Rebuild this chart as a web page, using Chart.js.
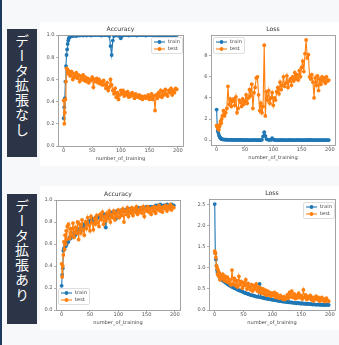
<!DOCTYPE html>
<html><head><meta charset="utf-8">
<script src="https://cdn.jsdelivr.net/npm/chart.js@4"></script>
<style>
html,body{margin:0;padding:0;}
body{width:339px;height:345px;background:#f7f8fa;position:relative;overflow:hidden;font-family:"DejaVu Sans",sans-serif;}
.edge{position:absolute;left:0;top:0;width:2px;height:345px;background:#1e3a5f;}
.panel{position:absolute;background:#ffffff;}
.tag{position:absolute;left:7px;width:30px;background:#2c3447;}
.tag div{position:absolute;left:8px;top:5px;width:14px;font-family:"Noto Sans CJK JP",sans-serif;font-size:14px;line-height:14px;letter-spacing:0.7px;color:#fff;writing-mode:vertical-rl;text-orientation:upright;}
canvas{position:absolute;}
</style></head>
<body>
<div class="edge"></div>
<div class="panel" style="left:40px;top:22px;width:299px;height:144px"></div>
<div class="panel" style="left:40px;top:186px;width:299px;height:144px"></div>
<div class="tag" style="top:29px;height:128px"><div>データ拡張なし</div></div>
<div class="tag" style="top:194px;height:130px"><div>データ拡張あり</div></div>
<canvas id="c1"></canvas>
<canvas id="c2"></canvas>
<canvas id="c3"></canvas>
<canvas id="c4"></canvas>
<script>
const epochs = [0,1,2,3,4,5,6,7,8,9,10,12,14,16,18,20,22,24,26,28,30,32,34,36,38,40,42,44,46,48,50,52,54,56,58,60,62,64,66,68,70,72,74,76,78,80,82,84,86,88,90,92,94,96,98,100,102,104,106,108,110,112,114,116,118,120,122,124,126,128,130,132,134,136,138,140,142,144,146,148,150,152,154,156,158,160,162,164,166,168,170,172,174,176,178,180,182,184,186,188,190,192,194,196,198];
const xTicks = [0,50,100,150,200];
const accTicks = [0,0.2,0.4,0.6,0.8,1.0];
const lossTicksNoAug = [0,2,4,6,8];
const lossTicksAug = [0,0.5,1.0,1.5,2.0,2.5];
const seriesNames = ['train','test'];
const titles = ['Accuracy','Loss'];
const xLabel = 'number_of_training';

const accTrainNoAug = [0.25,0.35,0.43,0.58,0.72,0.82,0.87,0.92,0.95,0.97,0.98,
 0.985,0.99,0.99,0.995,0.995, 0.99,0.995,1.0,0.995,1.0, 1.0,0.995,1.0,1.0,0.995,
 1.0,1.0,1.0,0.995,1.0, 1.0,1.0,1.0,1.0,1.0, 1.0,1.0,0.995,1.0,1.0,
 1.0,1.0,1.0,1.0,0.99, 0.9,0.82,0.95,0.99,1.0, 1.0,0.995,1.0,0.99,0.97,
 0.99,1.0,1.0,1.0,1.0, 1.0,0.995,1.0,1.0,1.0, 1.0,1.0,1.0,0.995,1.0,
 1.0,1.0,1.0,1.0,1.0, 1.0,0.995,1.0,1.0,1.0, 1.0,1.0,1.0,1.0,1.0,
 1.0,1.0,0.995,1.0,1.0, 1.0,1.0,1.0,1.0,1.0, 1.0,1.0,1.0,1.0,1.0, 1.0,1.0,1.0,1.0];
const accTestNoAug = [0.41,0.2,0.3,0.42,0.58,0.7,0.69,0.66,0.68,0.65,0.67,
 0.63,0.67,0.6,0.65,0.62, 0.66,0.61,0.64,0.58,0.63, 0.6,0.64,0.59,0.62,0.58,
 0.61,0.57,0.6,0.59,0.62, 0.53,0.6,0.58,0.61,0.57, 0.6,0.56,0.58,0.55,0.59,
 0.55,0.52,0.57,0.5,0.53, 0.6,0.55,0.5,0.47,0.52, 0.44,0.48,0.42,0.46,0.5,
 0.47,0.5,0.45,0.48,0.46, 0.49,0.44,0.47,0.45,0.48, 0.46,0.43,0.47,0.45,0.44,
 0.46,0.43,0.45,0.42,0.44, 0.45,0.43,0.44,0.46,0.42, 0.44,0.47,0.42,0.45,0.32,
 0.46,0.43,0.48,0.45,0.5, 0.44,0.49,0.46,0.51,0.47, 0.45,0.5,0.48,0.52,0.46, 0.5,0.48,0.52,0.51];
const lossTrainNoAug = [2.9,1.3,0.9,0.7,0.5,0.35,0.25,0.18,0.13,0.1,0.08,
 0.06,0.05,0.04,0.04,0.03, 0.03,0.03,0.02,0.02,0.02, 0.02,0.02,0.02,0.02,0.02,
 0.02,0.02,0.01,0.02,0.01, 0.01,0.02,0.01,0.01,0.01, 0.01,0.01,0.02,0.01,0.01,
 0.01,0.01,0.01,0.01,0.03, 0.35,0.75,0.4,0.1,0.05, 0.03,0.02,0.03,0.18,0.06,
 0.02,0.01,0.01,0.01,0.01, 0.01,0.02,0.01,0.01,0.01, 0.01,0.01,0.01,0.02,0.01,
 0.01,0.01,0.01,0.01,0.01, 0.01,0.02,0.01,0.01,0.01, 0.01,0.01,0.01,0.01,0.02,
 0.01,0.01,0.02,0.01,0.01, 0.01,0.01,0.01,0.01,0.01, 0.01,0.01,0.01,0.01,0.01, 0.01,0.01,0.01,0.01];
const lossTestNoAug = [1.4,1.3,1.1,1.2,1.0,1.3,1.5,1.8,1.6,2.0,2.3,
 2.8,2.3,2.6,3.0,5.1, 3.4,3.9,3.2,3.7,3.9, 3.3,4.1,2.6,3.0,3.8,
 3.6,3.2,3.9,3.4,3.7, 4.3,3.5,4.0,4.8,4.2, 5.3,3.0,4.5,5.0,5.9,
 6.0,4.3,2.8,3.5,2.6, 3.2,9.0,2.3,4.6,3.8, 4.7,3.5,4.0,4.5,3.3,
 4.0,3.8,4.6,5.0,4.4, 5.5,4.8,5.2,6.0,5.1, 5.4,6.1,5.0,5.6,5.8,
 5.2,6.0,5.6,6.4,5.8, 6.2,5.7,6.6,6.0,6.9, 7.5,6.5,8.2,9.5,7.8,
 8.1,6.0,5.8,6.2,5.5, 4.0,5.9,5.2,6.1,4.7, 5.8,5.3,6.0,5.6,5.9, 5.4,6.0,5.6,5.7];
const accTrainAug = [0.22,0.32,0.38,0.54,0.56,0.55,0.6,0.58,0.62,0.6,0.64,
 0.62,0.66,0.65,0.68,0.67, 0.7,0.68,0.72,0.7,0.73, 0.74,0.72,0.76,0.75,0.78,
 0.77,0.8,0.78,0.81,0.8, 0.82,0.81,0.83,0.82,0.84, 0.83,0.85,0.84,0.86,0.85,
 0.86,0.85,0.87,0.75,0.86, 0.87,0.86,0.88,0.87,0.89, 0.88,0.89,0.83,0.9,0.89,
 0.9,0.89,0.91,0.9,0.9, 0.91,0.9,0.91,0.9,0.92, 0.91,0.92,0.91,0.92,0.91,
 0.92,0.91,0.93,0.92,0.92, 0.93,0.92,0.93,0.92,0.94, 0.93,0.94,0.93,0.94,0.93,
 0.94,0.93,0.95,0.94,0.95, 0.94,0.96,0.95,0.94,0.95, 0.95,0.94,0.96,0.95,0.94, 0.95,0.96,0.94,0.95];
const accTestAug = [0.42,0.3,0.4,0.5,0.62,0.55,0.68,0.6,0.72,0.64,0.76,
 0.78,0.65,0.74,0.68,0.79, 0.66,0.75,0.7,0.8,0.64, 0.78,0.7,0.82,0.73,0.68,
 0.8,0.74,0.84,0.77,0.72, 0.85,0.79,0.73,0.83,0.78, 0.86,0.8,0.76,0.87,0.82,
 0.89,0.78,0.85,0.81,0.88, 0.83,0.9,0.8,0.87,0.84, 0.9,0.82,0.88,0.85,0.91,
 0.84,0.9,0.86,0.92,0.8, 0.9,0.87,0.93,0.85,0.91, 0.88,0.93,0.86,0.92,0.89,
 0.94,0.87,0.91,0.89,0.93, 0.88,0.94,0.85,0.92,0.9, 0.94,0.89,0.92,0.87,0.93,
 0.9,0.94,0.88,0.93,0.91, 0.95,0.9,0.93,0.89,0.94, 0.92,0.95,0.9,0.94,0.92, 0.96,0.91,0.94,0.93];
const lossTrainAug = [2.52,1.35,1.2,1.05,0.95,0.9,0.85,0.82,0.8,0.78,0.75,
 0.72,0.7,0.68,0.66,0.64, 0.62,0.6,0.58,0.57,0.55, 0.54,0.52,0.51,0.5,0.48,
 0.47,0.46,0.45,0.44,0.42, 0.41,0.4,0.39,0.38,0.37, 0.36,0.35,0.35,0.34,0.33,
 0.32,0.32,0.31,0.62,0.3, 0.3,0.29,0.28,0.28,0.27, 0.27,0.26,0.26,0.25,0.25,
 0.24,0.24,0.23,0.23,0.22, 0.22,0.21,0.21,0.2,0.2, 0.2,0.19,0.19,0.19,0.18,
 0.18,0.18,0.17,0.17,0.17, 0.16,0.17,0.16,0.16,0.15, 0.16,0.15,0.15,0.15,0.14,
 0.15,0.14,0.14,0.14,0.13, 0.14,0.13,0.13,0.13,0.13, 0.13,0.12,0.13,0.12,0.12, 0.12,0.13,0.12,0.12];
const lossTestAug = [1.4,1.35,1.25,1.05,1.0,0.85,0.95,0.8,0.88,0.72,0.82,
 0.75,0.85,0.7,0.8,0.68, 0.78,0.65,0.72,0.6,0.95, 0.62,0.75,0.58,0.7,0.55,
 0.8,0.6,0.68,0.52,0.65, 0.58,0.72,0.5,0.63,0.55, 0.48,0.6,0.45,0.58,0.5,
 0.62,0.45,0.55,0.42,0.52, 0.4,0.5,0.38,0.47,0.35, 0.45,0.36,0.42,0.33,0.4,
 0.35,0.42,0.3,0.38,0.33, 0.28,0.35,0.3,0.26,0.32, 0.25,0.3,0.36,0.28,0.42,
 0.32,0.45,0.3,0.38,0.27, 0.35,0.29,0.4,0.3,0.34, 0.26,0.48,0.3,0.36,0.25,
 0.32,0.28,0.35,0.24,0.3, 0.22,0.28,0.33,0.25,0.3, 0.21,0.27,0.3,0.22,0.26, 0.2,0.28,0.23,0.21];

const BLUE = '#1f77b4', ORANGE = '#ff7f0e';
const FONT = 'DejaVu Sans';

function pts(vals){ return epochs.map((e,i)=>({x:e, y:vals[i]})); }

function makeChart(id, area, spec){
  const cx = area.l - 22, cy = area.t - 12;
  const cw = area.r + 3 - cx, ch = area.b + 19 - cy;
  const cv = document.getElementById(id);
  cv.width = cw; cv.height = ch;
  cv.style.left = cx + 'px'; cv.style.top = cy + 'px';
  cv.style.width = cw + 'px'; cv.style.height = ch + 'px';
  const deco = {
    id: 'deco',
    afterDraw(chart){
      const ctx = chart.ctx, a = chart.chartArea;
      ctx.save();
      ctx.strokeStyle = '#9a9a9a'; ctx.lineWidth = 0.9;
      ctx.strokeRect(a.left + 0.5, a.top + 0.5, a.right - a.left, a.bottom - a.top);
      ctx.fillStyle = '#333';
      ctx.textAlign = 'center'; ctx.textBaseline = 'middle';
      ctx.font = '6.1px "' + FONT + '"';
      ctx.fillText(spec.title, (a.left + a.right) / 2, a.top - 5.5);
      ctx.font = '5.1px "' + FONT + '"';
      ctx.fillStyle = '#444';
      ctx.fillText(xLabel, (a.left + a.right) / 2, a.bottom + 12.5);
      const L = spec.legend;
      const lx = L.x - cx, ly = L.y - cy, lw = 31, lh = 16;
      ctx.fillStyle = 'rgba(255,255,255,0.85)';
      ctx.strokeStyle = '#d6d6d6'; ctx.lineWidth = 0.8;
      ctx.beginPath();
      if (ctx.roundRect) ctx.roundRect(lx + 0.5, ly + 0.5, lw, lh, 1.5); else ctx.rect(lx + 0.5, ly + 0.5, lw, lh);
      ctx.fill(); ctx.stroke();
      [BLUE, ORANGE].forEach((col, k) => {
        const yy = ly + 5 + k * 7;
        ctx.strokeStyle = col; ctx.lineWidth = 1.1;
        ctx.beginPath(); ctx.moveTo(lx + 3, yy); ctx.lineTo(lx + 14, yy); ctx.stroke();
        ctx.fillStyle = col;
        ctx.beginPath(); ctx.arc(lx + 8.5, yy, 1.9, 0, Math.PI * 2); ctx.fill();
        ctx.fillStyle = '#444'; ctx.textAlign = 'left';
        ctx.fillText(seriesNames[k], lx + 17, yy);
      });
      ctx.restore();
    }
  };
  const tickFont = {family: FONT, size: 5.1};
  return new Chart(cv, {
    type: 'line',
    data: { datasets: [
      { label: seriesNames[0], data: pts(spec.train), borderColor: BLUE, backgroundColor: BLUE,
        pointBackgroundColor: BLUE, borderWidth: 1.1, pointRadius: 1.9, pointBorderWidth: 0, tension: 0, order: 1 },
      { label: seriesNames[1], data: pts(spec.test), borderColor: ORANGE, backgroundColor: ORANGE,
        pointBackgroundColor: ORANGE, borderWidth: 1.1, pointRadius: 1.9, pointBorderWidth: 0, tension: 0, order: 0 }
    ]},
    options: {
      responsive: false, animation: false, devicePixelRatio: 1,
      layout: { padding: { left: 0, top: 12, right: 3, bottom: 0 } },
      plugins: { legend: { display: false }, tooltip: { enabled: false }, title: { display: false } },
      scales: {
        x: { type: 'linear', min: -9.95, max: 208.95,
          afterBuildTicks: s => { s.ticks = xTicks.map(v => ({ value: v })); },
          afterFit: s => { s.height = 19; s.paddingLeft = 0; s.paddingRight = 0; },
          ticks: { font: tickFont, color: '#555', padding: 0, maxRotation: 0, autoSkip: false, callback: v => String(v) },
          grid: { drawOnChartArea: false, tickLength: 2, color: '#9a9a9a', lineWidth: 0.8 },
          border: { display: false } },
        y: { type: 'linear', min: spec.ymin, max: spec.ymax,
          afterBuildTicks: s => { s.ticks = spec.yticks.map(v => ({ value: v })); },
          afterFit: s => { s.width = 22; s.paddingTop = 0; s.paddingBottom = 0; },
          ticks: { font: tickFont, color: '#555', padding: 1.5, autoSkip: false, callback: spec.fmt },
          grid: { drawOnChartArea: false, tickLength: 2, color: '#9a9a9a', lineWidth: 0.8 },
          border: { display: false } }
      }
    },
    plugins: [deco]
  });
}

makeChart('c1', {l:58, t:35, r:184, b:146}, { title: titles[0], train: accTrainNoAug, test: accTestNoAug,
  ymin: 0, ymax: 1.0, yticks: accTicks, fmt: v => v.toFixed(1), legend: {x:151, y:37} });
makeChart('c2', {l:211, t:35, r:336, b:145}, { title: titles[1], train: lossTrainNoAug, test: lossTestNoAug,
  ymin: -0.46, ymax: 9.97, yticks: lossTicksNoAug, fmt: v => String(v), legend: {x:213, y:37} });
makeChart('c3', {l:56, t:200, r:181, b:310}, { title: titles[0], train: accTrainAug, test: accTestAug,
  ymin: 0, ymax: 1.0, yticks: accTicks, fmt: v => v.toFixed(1), legend: {x:58, y:288} });
makeChart('c4', {l:209, t:199, r:336, b:310}, { title: titles[1], train: lossTrainAug, test: lossTestAug,
  ymin: 0, ymax: 2.64, yticks: lossTicksAug, fmt: v => v.toFixed(1), legend: {x:303, y:202} });
</script>
</body></html>
